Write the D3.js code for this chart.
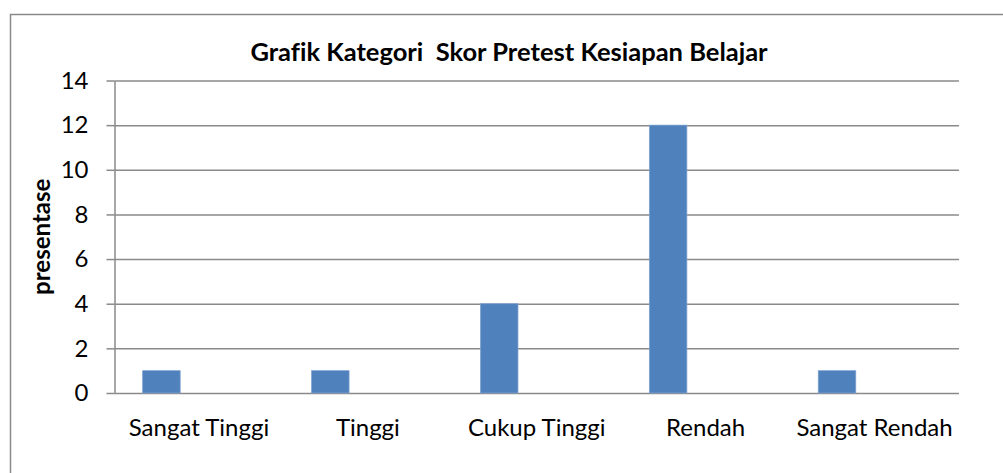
<!DOCTYPE html>
<html>
<head>
<meta charset="utf-8">
<script src="https://d3js.org/d3.v7.min.js"></script>
<style>
	body { margin: 0; background: #fff; }
	svg { display: block; font-family: Lato, 'Open Sans', sans-serif; font-variant-ligatures: none; }
	.grid line { stroke: #8a8a8a; stroke-width: 1.5; }
	.grid .domain { display: none; }
	.yAxis line, .yAxis .domain { stroke: #8a8a8a; stroke-width: 1.5; }
	.xAxis .domain, .xAxis line { display: none; }
</style>
</head>
<body>
<div id="chart"></div>
<script>
var categories = ['Sangat Tinggi', 'Tinggi', 'Cukup Tinggi', 'Rendah', 'Sangat Rendah'];
var values = [1, 1, 4, 12, 1];
var yTicks = [0, 2, 4, 6, 8, 10, 12, 14];
var title = 'Grafik Kategori\u00a0 Skor Pretest Kesiapan Belajar';
var yLabel = 'presentase';

var svg = d3.select('#chart').append('svg').attr('width', 1003).attr('height', 473);

// chart frame, runs off the right and bottom edge like the source
svg.append('rect')
	.attr('x', 10.5)
	.attr('y', 14.5)
	.attr('width', 1010)
	.attr('height', 480)
	.attr('fill', '#fff')
	.attr('stroke', '#8a8a8a')
	.attr('stroke-width', 1.5);

var plotLeft = 114.5, plotRight = 959, plotTop = 80.5, plotBottom = 393;

var xScale = d3.scaleBand()
	.domain(categories)
	.range([plotLeft, plotRight]);

var yScale = d3.scaleLinear()
	.domain([0, 14])
	.range([plotBottom, plotTop]);

svg.append('g')
	.attr('class', 'grid')
	.attr('transform', 'translate(' + plotLeft + ',0)')
	.call(d3.axisLeft(yScale).tickValues(yTicks).tickSize(-(plotRight - plotLeft)).tickFormat(''));

svg.append('g')
	.attr('class', 'yAxis')
	.attr('transform', 'translate(' + plotLeft + ',0)')
	.call(d3.axisLeft(yScale).tickValues(yTicks).tickSizeInner(8).tickSizeOuter(0).tickPadding(18))
	.selectAll('text')
	.attr('font-size', 24)
	.attr('font-family', 'Lato, sans-serif')
	.attr('fill', '#000');

svg.append('g')
	.attr('class', 'xAxis')
	.attr('transform', 'translate(0,' + plotBottom + ')')
	.call(d3.axisBottom(xScale).tickSize(0).tickPadding(26))
	.selectAll('text')
	.attr('font-size', 24)
	.attr('font-family', 'Lato, sans-serif')
	.attr('fill', '#000');

// three slots per category with 150% gap, only the first one holds data
var barW = xScale.bandwidth() / 4.5;

svg.append('g')
	.selectAll('rect')
	.data(values)
	.enter()
	.append('rect')
	.attr('x', function(d, i) { return xScale(categories[i]) + barW * 0.75; })
	.attr('y', function(d) { return yScale(d); })
	.attr('width', barW)
	.attr('height', function(d) { return yScale(0) - yScale(d); })
	.attr('fill', '#4f81bd')
	.attr('stroke', '#7fa2cf')
	.attr('stroke-width', 0.75);

svg.append('text')
	.attr('x', 509)
	.attr('y', 61)
	.attr('text-anchor', 'middle')
	.attr('font-size', 25.5)
	.attr('font-weight', 'bold')
	.text(title);

svg.append('text')
	.attr('transform', 'translate(50,' + ((plotTop + plotBottom) / 2) + ') rotate(-90)')
	.attr('text-anchor', 'middle')
	.attr('font-size', 24)
	.attr('font-weight', 'bold')
	.text(yLabel);
</script>
</body>
</html>
